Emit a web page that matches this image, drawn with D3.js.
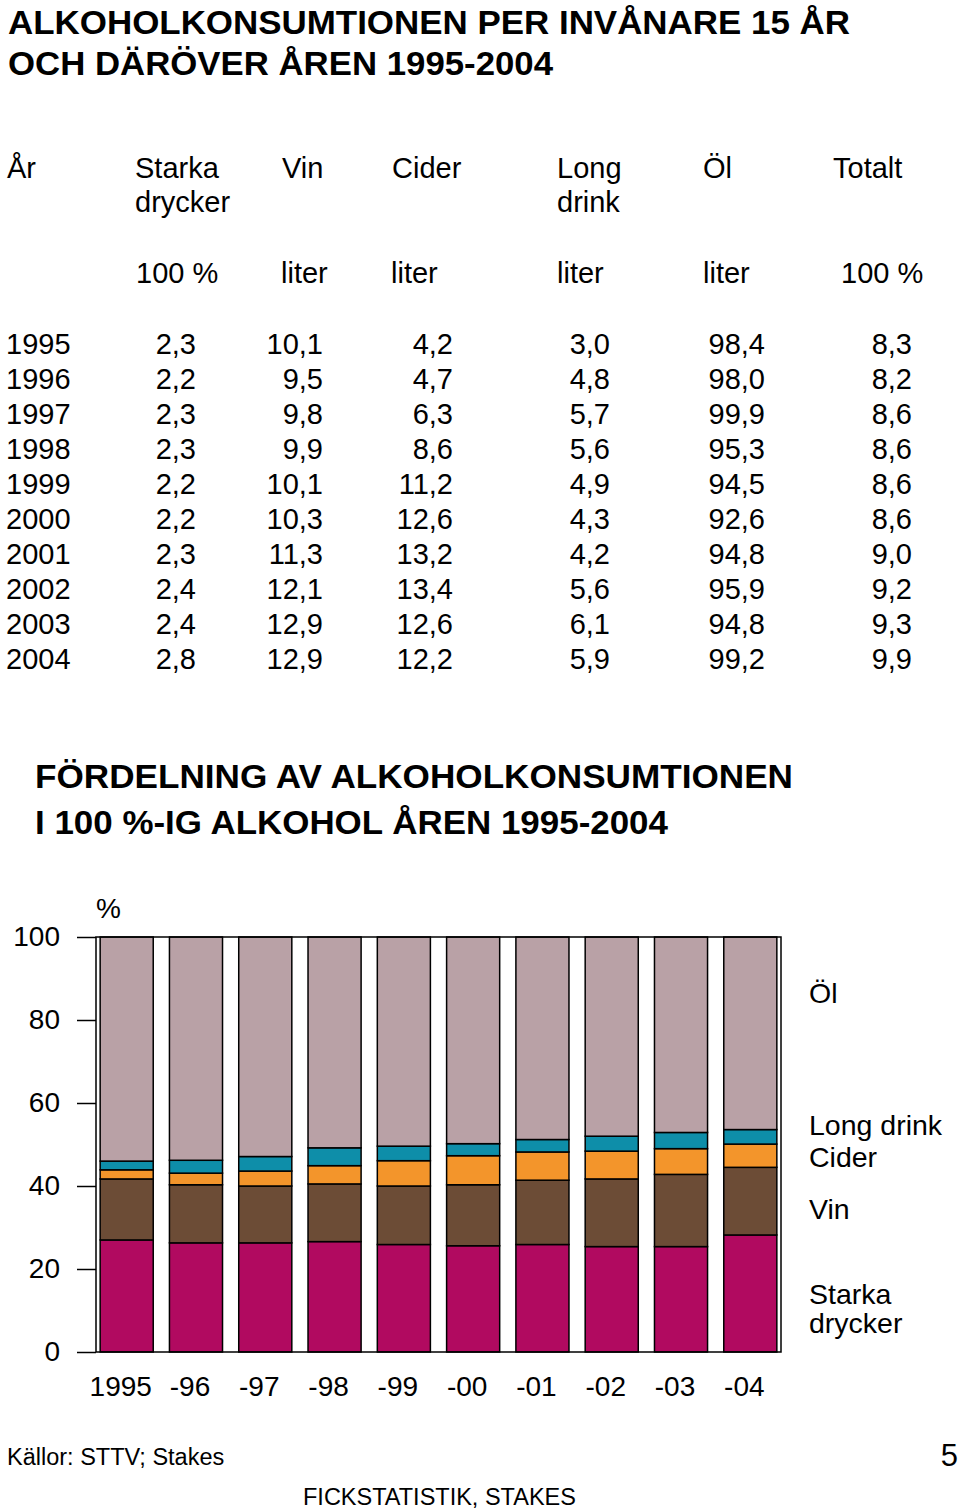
<!DOCTYPE html>
<html>
<head>
<meta charset="utf-8">
<script src="https://cdn.jsdelivr.net/npm/d3@7"></script>
<style>
  body { margin: 0; background: #fff; }
  svg text { font-family: "Liberation Sans", Arial, Helvetica, sans-serif; fill: #000; }
</style>
</head>
<body>
<svg id="page" width="960" height="1510"></svg>
<script>
// table data (per capita, 15 years and older)
const years = [1995, 1996, 1997, 1998, 1999, 2000, 2001, 2002, 2003, 2004];
const starkaLiter = [2.3, 2.2, 2.3, 2.3, 2.2, 2.2, 2.3, 2.4, 2.4, 2.8];
const vinLiter = [10.1, 9.5, 9.8, 9.9, 10.1, 10.3, 11.3, 12.1, 12.9, 12.9];
const ciderLiter = [4.2, 4.7, 6.3, 8.6, 11.2, 12.6, 13.2, 13.4, 12.6, 12.2];
const longDrinkLiter = [3.0, 4.8, 5.7, 5.6, 4.9, 4.3, 4.2, 5.6, 6.1, 5.9];
const olLiter = [98.4, 98.0, 99.9, 95.3, 94.5, 92.6, 94.8, 95.9, 94.8, 99.2];
const totaltLiter = [8.3, 8.2, 8.6, 8.6, 8.6, 8.6, 9.0, 9.2, 9.3, 9.9];

// chart data: share of 100% alcohol
const yearLabels = ["1995", "-96", "-97", "-98", "-99", "-00", "-01", "-02", "-03", "-04"];
const starkaPct = [27.0, 26.3, 26.3, 26.6, 25.9, 25.6, 25.9, 25.4, 25.4, 28.2];
const vinPct = [14.7, 14.0, 13.7, 13.9, 14.1, 14.7, 15.5, 16.3, 17.4, 16.3];
const ciderPct = [2.2, 2.8, 3.6, 4.4, 6.1, 7.0, 6.8, 6.7, 6.2, 5.6];
const longDrinkPct = [2.1, 3.1, 3.5, 4.3, 3.5, 2.9, 3.0, 3.6, 3.9, 3.5];
const olPct = [54.0, 53.8, 52.9, 50.8, 50.4, 49.8, 48.8, 48.0, 47.1, 46.4];
const yTicks = [0, 20, 40, 60, 80, 100];

const seriesKeys = ["starka", "vin", "cider", "longDrink", "ol"];
const seriesColors = ["#b10a60", "#6c4c36", "#f3952b", "#0e8ea9", "#b9a1a6"];

const svg = d3.select("#page");
const fmt = d3.formatLocale({ decimal: ",", thousands: " ", grouping: [3], currency: ["", " €"] }).format(".1f");

// titles
svg.append("text").attr("x", 8).attr("y", 34)
  .attr("font-size", 34).attr("font-weight", "bold")
  .attr("textLength", 842).attr("lengthAdjust", "spacingAndGlyphs")
  .text("ALKOHOLKONSUMTIONEN PER INVÅNARE 15 ÅR");
svg.append("text").attr("x", 8).attr("y", 75)
  .attr("font-size", 34).attr("font-weight", "bold")
  .attr("textLength", 545).attr("lengthAdjust", "spacingAndGlyphs")
  .text("OCH DÄRÖVER ÅREN 1995-2004");

// table header
const headers = [
  { x: 7, lines: ["År"] },
  { x: 135, lines: ["Starka", "drycker"] },
  { x: 282, lines: ["Vin"] },
  { x: 392, lines: ["Cider"] },
  { x: 557, lines: ["Long", "drink"] },
  { x: 703, lines: ["Öl"] },
  { x: 833, lines: ["Totalt"] }
];
const units = [
  { x: 136, t: "100 %" }, { x: 281, t: "liter" }, { x: 391, t: "liter" },
  { x: 557, t: "liter" }, { x: 703, t: "liter" }, { x: 841, t: "100 %" }
];
const head = svg.append("g").attr("font-size", 29);
headers.forEach(h => {
  h.lines.forEach((l, i) => {
    head.append("text").attr("x", h.x).attr("y", 178 + i * 34).text(l);
  });
});
units.forEach(u => head.append("text").attr("x", u.x).attr("y", 283).text(u.t));

// table body
const colRight = [196, 323, 453, 610, 765, 912];
const colData = [starkaLiter, vinLiter, ciderLiter, longDrinkLiter, olLiter, totaltLiter];
const rowY = d3.scalePoint().domain(years).range([354, 669]);
const body = svg.append("g").attr("font-size", 29);
body.selectAll("text.year").data(years).join("text")
  .attr("class", "year").attr("x", 6).attr("y", d => rowY(d)).text(d => d);
colData.forEach((col, c) => {
  body.selectAll("text.c" + c).data(col).join("text")
    .attr("class", "c" + c)
    .attr("x", colRight[c])
    .attr("y", (d, i) => rowY(years[i]))
    .attr("text-anchor", "end")
    .text(d => fmt(d));
});

// chart title
svg.append("text").attr("x", 35).attr("y", 788)
  .attr("font-size", 34).attr("font-weight", "bold")
  .attr("textLength", 758).attr("lengthAdjust", "spacingAndGlyphs")
  .text("FÖRDELNING AV ALKOHOLKONSUMTIONEN");
svg.append("text").attr("x", 35).attr("y", 834)
  .attr("font-size", 34).attr("font-weight", "bold")
  .attr("textLength", 633).attr("lengthAdjust", "spacingAndGlyphs")
  .text("I 100 %-IG ALKOHOL ÅREN 1995-2004");

// stacked bar chart
const plotLeft = 96, plotRight = 781, plotTop = 937, plotBottom = 1352;
const x = d3.scaleBand().domain(yearLabels).range([plotLeft, plotRight])
  .paddingInner(0.234).paddingOuter(0.06);
const y = d3.scaleLinear().domain([0, 100]).range([plotBottom, plotTop]);

const rows = yearLabels.map((lab, i) => ({
  label: lab,
  starka: starkaPct[i], vin: vinPct[i], cider: ciderPct[i],
  longDrink: longDrinkPct[i], ol: olPct[i]
}));
const stacked = d3.stack().keys(seriesKeys)(rows);

const chart = svg.append("g");
chart.selectAll("g.layer").data(stacked).join("g")
  .attr("class", "layer")
  .attr("fill", (d, i) => seriesColors[i])
  .selectAll("rect").data(d => d).join("rect")
  .attr("x", d => x(d.data.label))
  .attr("width", x.bandwidth())
  .attr("y", d => y(d[1]))
  .attr("height", d => y(d[0]) - y(d[1]))
  .attr("stroke", "#000").attr("stroke-width", 1.5);

// frame
chart.append("rect")
  .attr("x", plotLeft).attr("y", plotTop)
  .attr("width", plotRight - plotLeft).attr("height", plotBottom - plotTop)
  .attr("fill", "none").attr("stroke", "#000").attr("stroke-width", 1.5);

// y axis
const yAxis = svg.append("g")
  .attr("transform", `translate(${plotLeft},0)`)
  .call(d3.axisLeft(y).tickValues(yTicks).tickSize(19).tickPadding(17));
yAxis.select(".domain").remove();
yAxis.selectAll("line").attr("stroke-width", 1.5);
yAxis.selectAll("text").attr("font-size", 28)
  .attr("font-family", "Liberation Sans, Arial, sans-serif");

svg.append("text").attr("x", 96).attr("y", 918).attr("font-size", 28).text("%");

// x axis
const xAxis = svg.append("g")
  .attr("transform", `translate(0,${plotBottom})`)
  .call(d3.axisBottom(x).tickSize(0).tickPadding(24));
xAxis.select(".domain").remove();
xAxis.selectAll("text").attr("font-size", 28).attr("x", -6)
  .attr("font-family", "Liberation Sans, Arial, sans-serif");

// legend labels at the right side of the bars
const legend = [
  { y: 1003, lines: ["Öl"] },
  { y: 1135, lines: ["Long drink"] },
  { y: 1167, lines: ["Cider"] },
  { y: 1219, lines: ["Vin"] },
  { y: 1304, lines: ["Starka", "drycker"] }
];
const leg = svg.append("g").attr("font-size", 28.5);
legend.forEach(l => l.lines.forEach((t, i) => {
  leg.append("text").attr("x", 809).attr("y", l.y + i * 29).text(t);
}));

// footer
svg.append("text").attr("x", 7).attr("y", 1465).attr("font-size", 23.5).text("Källor: STTV; Stakes");
svg.append("text").attr("x", 958).attr("y", 1466).attr("font-size", 31)
  .attr("text-anchor", "end").text("5");
svg.append("text").attr("x", 303).attr("y", 1505).attr("font-size", 23.5)
  .text("FICKSTATISTIK, STAKES");
</script>
</body>
</html>
